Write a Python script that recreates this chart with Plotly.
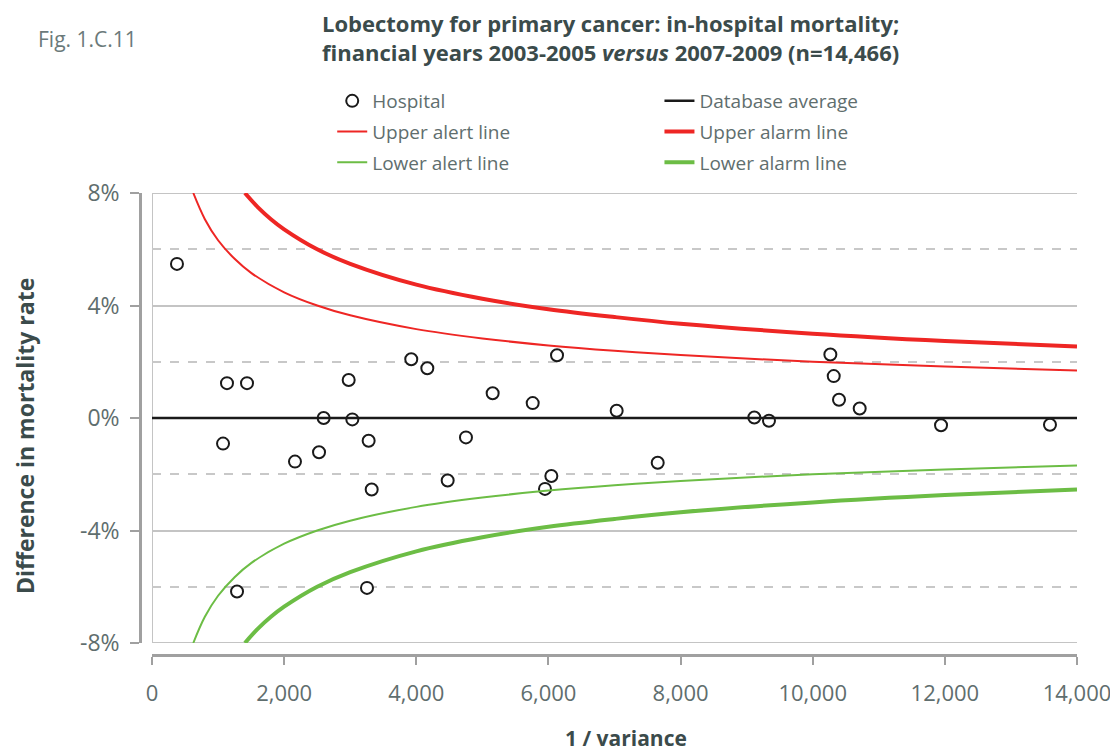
import plotly.graph_objects as go

# hospital points: 1/variance vs difference in mortality rate (%)
hosp_x = [378, 1135, 1438, 1075, 2164, 2528, 2598, 3032, 2977, 3279, 3325, 1287, 3254,
          3924, 4167, 5156, 5762, 6130, 7033, 9116, 9338, 4752, 4475, 6044, 5948, 7654,
          10267, 10318, 10398, 10711, 11942, 13591]
hosp_y = [5.48, 1.24, 1.24, -0.91, -1.55, -1.22, 0.0, -0.05, 1.35, -0.81, -2.54, -6.17, -6.04,
          2.09, 1.77, 0.88, 0.53, 2.23, 0.26, 0.02, -0.10, -0.69, -2.22, -2.06, -2.52, -1.59,
          2.26, 1.49, 0.65, 0.34, -0.26, -0.24]

avg_x = [0, 14000]
avg_y = [0, 0]

alert_x = [625, 800, 1000, 1250, 1500, 2000, 2500, 3000, 4000, 5000, 6000, 7000, 8000, 10000, 12000, 14000]
upper_alert = [8.0, 7.07, 6.32, 5.66, 5.16, 4.47, 4.0, 3.65, 3.16, 2.83, 2.58, 2.39, 2.24, 2.0, 1.83, 1.69]
lower_alert = [-8.0, -7.07, -6.32, -5.66, -5.16, -4.47, -4.0, -3.65, -3.16, -2.83, -2.58, -2.39, -2.24, -2.0, -1.83, -1.69]

alarm_x = [1406, 1600, 1800, 2000, 2500, 3000, 4000, 5000, 6000, 7000, 8000, 10000, 12000, 14000]
upper_alarm = [8.0, 7.5, 7.07, 6.71, 6.0, 5.48, 4.74, 4.24, 3.87, 3.59, 3.35, 3.0, 2.74, 2.54]
lower_alarm = [-8.0, -7.5, -7.07, -6.71, -6.0, -5.48, -4.74, -4.24, -3.87, -3.59, -3.35, -3.0, -2.74, -2.54]

y_ticks = [-8, -4, 0, 4, 8]
y_labels = ["-8%", "-4%", "0%", "4%", "8%"]
x_ticks = [0, 2000, 4000, 6000, 8000, 10000, 12000, 14000]

RED = "#ee2624"
GREEN = "#6cbd45"
TXT = "#5f6e6e"
DARK = "#3b4b4b"
FONT = "Open Sans"

fig = go.Figure()
# left legend column
fig.add_trace(go.Scatter(x=hosp_x, y=hosp_y, mode="markers", name="Hospital",
                         legend="legend", legendgroup="a",
                         marker=dict(symbol="circle", size=12, color="white",
                                     line=dict(color="#1a1a1a", width=2))))
fig.add_trace(go.Scatter(x=alert_x, y=upper_alert, mode="lines", name="Upper alert line",
                         legend="legend", legendgroup="b",
                         line=dict(color=RED, width=2, shape="spline")))
fig.add_trace(go.Scatter(x=alert_x, y=lower_alert, mode="lines", name="Lower alert line",
                         legend="legend", legendgroup="c",
                         line=dict(color=GREEN, width=2, shape="spline")))
# right legend column
fig.add_trace(go.Scatter(x=avg_x, y=avg_y, mode="lines", name="Database average",
                         legend="legend2", legendgroup="d",
                         line=dict(color="#1a1a1a", width=2.5)))
fig.add_trace(go.Scatter(x=alarm_x, y=upper_alarm, mode="lines", name="Upper alarm line",
                         legend="legend2", legendgroup="e",
                         line=dict(color=RED, width=4, shape="spline")))
fig.add_trace(go.Scatter(x=alarm_x, y=lower_alarm, mode="lines", name="Lower alarm line",
                         legend="legend2", legendgroup="f",
                         line=dict(color=GREEN, width=4, shape="spline")))

# light frame lines around the plot area
fig.add_shape(type="line", xref="x", yref="y", x0=0, x1=0, y0=-8, y1=8,
              line=dict(color="#c4c4c4", width=2), layer="below")
fig.add_shape(type="line", xref="x", yref="y", x0=0, x1=14000, y0=8, y1=8,
              line=dict(color="#c4c4c4", width=2), layer="below")
fig.add_shape(type="line", xref="x", yref="y", x0=0, x1=14000, y0=-8, y1=-8,
              line=dict(color="#c4c4c4", width=2), layer="below")

leg_common = dict(orientation="v", xref="container", yref="container",
                  xanchor="left", yanchor="top", font=dict(size=19, color=TXT),
                  itemwidth=30, traceorder="grouped", tracegroupgap=3,
                  bgcolor="rgba(0,0,0,0)")

fig.update_layout(
    width=1118, height=753,
    margin=dict(l=122, r=49, t=185, b=96, autoexpand=False),
    paper_bgcolor="white", plot_bgcolor="white",
    font=dict(family=FONT, color=TXT, size=18),
    showlegend=True,
    legend=dict(x=0.29, y=0.9017, **leg_common),
    legend2=dict(x=0.5827, y=0.9017, **leg_common),
    xaxis=dict(domain=[0.02323, 1], range=[0, 14000], anchor="free", position=0.02119,
               tickvals=x_ticks, tickformat=",d", showgrid=False, zeroline=False,
               showline=True, linecolor="#a0a0a0", linewidth=2.5,
               ticks="outside", ticklen=8, tickwidth=2, tickcolor="#a0a0a0",
               ticklabelstandoff=10,
               tickfont=dict(size=22, color=TXT), automargin=False),
    yaxis=dict(domain=[0.04661, 1], range=[-8, 8], anchor="free", position=0.01056,
               tickvals=y_ticks, ticktext=y_labels, showgrid=True,
               gridcolor="#c4c4c4", gridwidth=2, zeroline=False,
               minor=dict(dtick=2, showgrid=True, griddash="dash", gridcolor="#c8c8c8", gridwidth=2),
               showline=True, linecolor="#a0a0a0", linewidth=2.5,
               ticks="outside", ticklen=9, tickwidth=2, tickcolor="#a0a0a0",
               ticklabelstandoff=6,
               tickfont=dict(size=23, color=TXT), automargin=False),
)

# axis titles
fig.add_annotation(xref="paper", yref="paper", x=-0.1109, y=0.4852, xanchor="center", yanchor="middle",
                   textangle=-90, text="<b>Difference in mortality rate</b>", showarrow=False,
                   font=dict(size=23, color=DARK))
fig.add_annotation(xref="paper", yref="paper", x=0.5238, y=-0.1547, xanchor="center", yanchor="middle",
                   text="<b>1 / variance</b>", showarrow=False, borderpad=0,
                   font=dict(size=21, color=DARK))

fig.add_annotation(xref="paper", yref="paper", x=-0.0993, y=1.0, xanchor="left", yanchor="bottom",
                   yshift=138, text="Fig. 1.C.11", showarrow=False,
                   font=dict(size=21, color="#6b7a7a"))
fig.add_annotation(xref="paper", yref="paper", x=0.5, y=1.0, xanchor="center", yanchor="bottom",
                   xshift=7, yshift=125, align="center", showarrow=False, borderpad=0,
                   text="<b>Lobectomy for primary cancer: in-hospital mortality;<br>"
                        "financial years 2003-2005 <i>versus</i> 2007-2009 (n=14,466)</b>",
                   font=dict(size=22, color=DARK))

fig.write_html("out.html")
